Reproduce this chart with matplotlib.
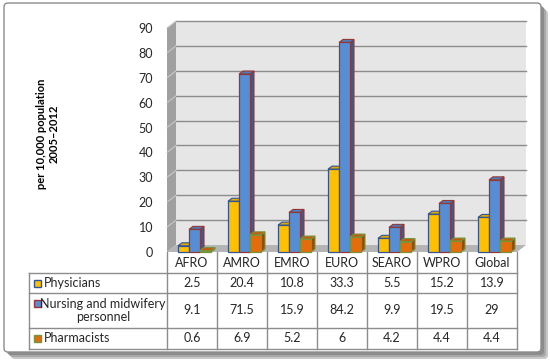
import matplotlib
matplotlib.use('Agg')
import matplotlib.pyplot as plt
from matplotlib.patches import Polygon, Rectangle, FancyBboxPatch

plt.rcParams['font.family'] = ['Lato', 'DejaVu Sans']

# data
regions = ['AFRO', 'AMRO', 'EMRO', 'EURO', 'SEARO', 'WPRO', 'Global']
physicians = [2.5, 20.4, 10.8, 33.3, 5.5, 15.2, 13.9]
nursing = [9.1, 71.5, 15.9, 84.2, 9.9, 19.5, 29]
pharmacists = [0.6, 6.9, 5.2, 6, 4.2, 4.4, 4.4]
series_names = ['Physicians', 'Nursing and midwifery\npersonnel', 'Pharmacists']
value_labels = [['2.5', '20.4', '10.8', '33.3', '5.5', '15.2', '13.9'],
                ['9.1', '71.5', '15.9', '84.2', '9.9', '19.5', '29'],
                ['0.6', '6.9', '5.2', '6', '4.2', '4.4', '4.4']]
yticks = [0, 10, 20, 30, 40, 50, 60, 70, 80, 90]

# colours: front, top, side, edge
styles = [('#FFC000', '#E0A800', '#B88A00', '#2F5597'),
          ('#558ED5', '#4A7EBB', '#345C8E', '#953735'),
          ('#E46C0A', '#C55A0A', '#984807', '#77933C')]

fig = plt.figure(figsize=(5.5, 3.6), dpi=100)

# background axes in pixel coords
bg = fig.add_axes([0, 0, 1, 1])
bg.set_xlim(0, 550)
bg.set_ylim(360, 0)
bg.axis('off')

# frame shadow + frame
for off, c in [(7, '#C8C8C8'), (5, '#A8A8A8'), (3, '#8C8C8C')]:
    bg.add_patch(FancyBboxPatch((4 + off, 3 + off), 537, 349,
                                boxstyle='round,pad=0,rounding_size=4',
                                fc=c, ec='none'))
bg.add_patch(FancyBboxPatch((4, 3), 537, 349, boxstyle='round,pad=0,rounding_size=4',
                            fc='white', ec='#8C8C8C', lw=1))

# y label
bg.text(48, 134, 'per 10,000 population\n2005\u20132012', rotation=90, ha='center',
        va='center', fontsize=8, fontweight='bold', multialignment='center')

# table
col_edges = [167 + 50 * i for i in range(8)]
row_edges = [252, 273, 293, 328, 349]
lc = '#8C8C8C'
for xe in col_edges:
    bg.plot([xe, xe], [252, 349], color=lc, lw=1)
bg.plot([29, 29], [273, 349], color=lc, lw=1)
for ye in row_edges[1:]:
    bg.plot([29, 517], [ye, ye], color=lc, lw=1)

for i, r in enumerate(regions):
    cx = col_edges[i] + 25
    bg.text(cx, 263, r, ha='center', va='center', fontsize=9, color='#262626')
    for j in range(3):
        cy = (row_edges[j + 1] + row_edges[j + 2]) / 2
        bg.text(cx, cy, value_labels[j][i], ha='center', va='center', fontsize=9, color='#262626')

key_y = [283, 303, 338.5]
for j in range(3):
    bg.add_patch(Rectangle((34, key_y[j] - 3.5), 7, 7, fc=styles[j][0], ec=styles[j][3], lw=1))
bg.text(44, 283, series_names[0], ha='left', va='center', fontsize=9, color='#262626')
bg.text(103, 310.5, series_names[1], ha='center', va='center', fontsize=9,
        color='#262626', multialignment='center', linespacing=1.15)
bg.text(44, 338.5, series_names[2], ha='left', va='center', fontsize=9, color='#262626')

# chart axes
ax = fig.add_axes([167 / 550, (360 - 252) / 360, 350 / 550, 224 / 360])
ax.set_xlim(-0.5, 6.5)
ax.set_ylim(0, 90)
ax.patch.set_alpha(0)
for s in ax.spines.values():
    s.set_visible(False)
ax.set_xticks([])
ax.set_yticks(yticks)
ax.tick_params(axis='y', length=0, pad=10, labelsize=9, labelcolor='#262626')

wdx, wdy = 0.18, 2.8
# back wall
ax.add_patch(Polygon([(-0.5 + wdx, wdy), (6.5 + wdx, wdy), (6.5 + wdx, 90 + wdy), (-0.5 + wdx, 90 + wdy)],
                     closed=True, fc='#E6E6E6', ec='none', clip_on=False, zorder=0))
# left wall
ax.add_patch(Polygon([(-0.5, 0), (-0.5, 90), (-0.5 + wdx, 90 + wdy), (-0.5 + wdx, wdy)],
                     closed=True, fc='#A0A0A0', ec='none', clip_on=False, zorder=0))
# floor
ax.add_patch(Polygon([(-0.5, 0), (6.5, 0), (6.5 + wdx, wdy), (-0.5 + wdx, wdy)],
                     closed=True, fc='#B4B4B4', ec='none', clip_on=False, zorder=0.5))
for v in yticks[1:]:
    ax.plot([-0.5 + wdx, 6.5 + wdx], [v + wdy, v + wdy], color='#8C8C8C', lw=1, clip_on=False, zorder=0.2)
    ax.plot([-0.5, -0.5 + wdx], [v, v + wdy], color='#C8C8C8', lw=0.8, clip_on=False, zorder=0.2)

# bars with depth
w = 0.22
offsets = [-0.17, 0.05, 0.27]
ddx, ddy = 0.08, 1.2
z = 2
for i in range(len(regions)):
    for j, vals in enumerate([physicians, nursing, pharmacists]):
        front, top, side, edge = styles[j]
        x0 = i + offsets[j] - w / 2
        x1 = x0 + w
        v = vals[i]
        ax.add_patch(Polygon([(x1, 0), (x1 + ddx, ddy), (x1 + ddx, v + ddy), (x1, v)],
                             closed=True, fc=side, ec=edge, lw=0.8, zorder=z, clip_on=False))
        ax.add_patch(Polygon([(x0, v), (x1, v), (x1 + ddx, v + ddy), (x0 + ddx, v + ddy)],
                             closed=True, fc=top, ec=edge, lw=0.8, zorder=z, clip_on=False))
        ax.bar(i + offsets[j], v, width=w, color=front, edgecolor=edge, lw=0.9, zorder=z + 0.5, clip_on=False)
        z += 1

fig.savefig('out.png', dpi=100)
